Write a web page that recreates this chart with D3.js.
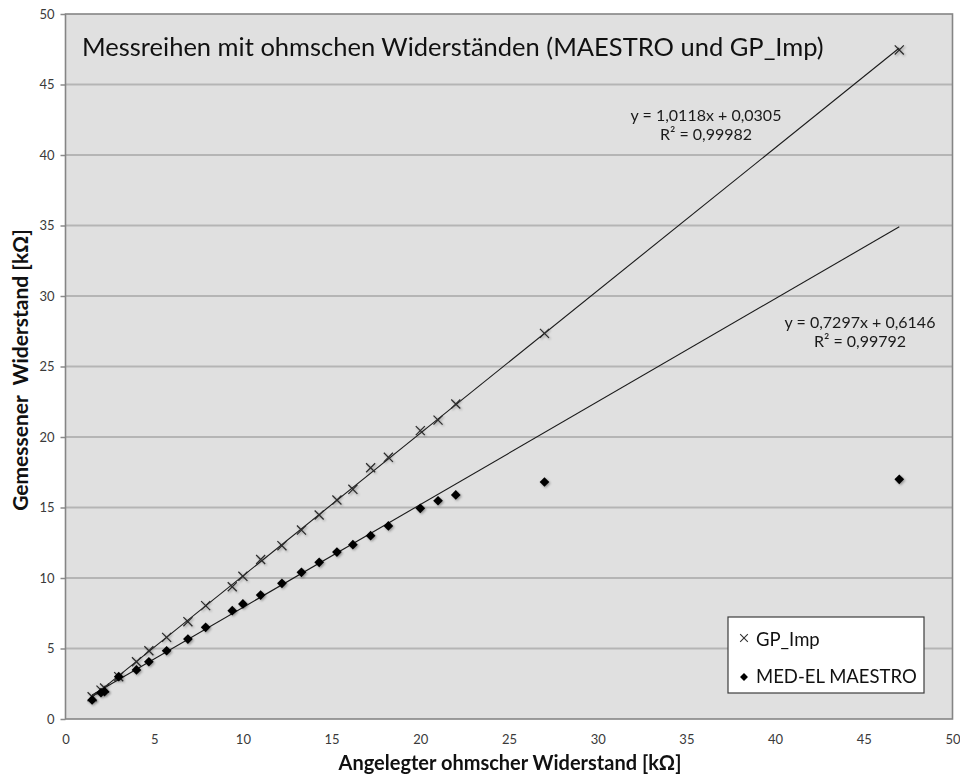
<!DOCTYPE html>
<html>
<head>
<meta charset="utf-8">
<script src="https://cdn.jsdelivr.net/npm/d3@7"></script>
<style>
  html, body { margin: 0; padding: 0; background: #ffffff; }
  svg { display: block; }
  text { font-family: Lato, "Open Sans", sans-serif; }
</style>
</head>
<body>
<svg id="chart" width="960" height="780"></svg>
<script>
// Applied resistance [kΩ] (shared by both measurement series)
const appliedResistance = [1.5, 2.0, 2.2, 3.0, 4.0, 4.7, 5.7, 6.9, 7.9, 9.4, 10.0, 11.0, 12.2,
  13.3, 14.3, 15.3, 16.2, 17.2, 18.2, 20.0, 21.0, 22.0, 27.0, 47.0];

// Measured resistance [kΩ]
const gpImpValues = [1.58, 2.05, 2.2, 3.0, 4.06, 4.84, 5.79, 6.9, 8.04, 9.38, 10.12, 11.31, 12.29,
  13.4, 14.47, 15.53, 16.29, 17.82, 18.56, 20.45, 21.2, 22.34, 27.35, 47.45];
const maestroValues = [1.35, 1.87, 1.94, 3.0, 3.48, 4.06, 4.84, 5.67, 6.5, 7.68, 8.16, 8.79, 9.62,
  10.4, 11.11, 11.84, 12.36, 13.0, 13.69, 14.94, 15.48, 15.89, 16.81, 17.0];

// Linear trendlines (slope, intercept, R²)
const seriesNames = ["GP_Imp", "MED-EL MAESTRO"];
const trendSlopes = [1.0118, 0.7297];
const trendIntercepts = [0.0305, 0.6146];
const trendR2 = ["0,99982", "0,99792"];

const xTicks = [0, 5, 10, 15, 20, 25, 30, 35, 40, 45, 50];
const yTicks = [0, 5, 10, 15, 20, 25, 30, 35, 40, 45, 50];

const titleText = "Messreihen mit ohmschen Widerständen (MAESTRO und GP_Imp)";
const xTitle = "Angelegter ohmscher Widerstand [kΩ]";
const yTitle = "Gemessener\u00A0 Widerstand [kΩ]";

const svg = d3.select("#chart");
const plotL = 65.5, plotR = 952.5, plotT = 14, plotB = 719;

const x = d3.scaleLinear().domain([0, 50]).range([plotL, plotR]);
const y = d3.scaleLinear().domain([0, 50]).range([plotB, plotT]);

// soft marker shadow
const defs = svg.append("defs");
const f = defs.append("filter").attr("id", "shadow").attr("x", "-50%").attr("y", "-50%")
  .attr("width", "200%").attr("height", "200%");
f.append("feDropShadow").attr("dx", 1.2).attr("dy", 1.2).attr("stdDeviation", 1.1)
  .attr("flood-color", "#000").attr("flood-opacity", 0.35);

// plot area
svg.append("rect").attr("x", plotL).attr("y", plotT)
  .attr("width", plotR - plotL).attr("height", plotB - plotT)
  .attr("fill", "#e0e0e0");

// horizontal gridlines
svg.append("g").selectAll("line").data(yTicks.filter(d => d > 0 && d < 50)).join("line")
  .attr("x1", plotL).attr("x2", plotR)
  .attr("y1", d => y(d)).attr("y2", d => y(d))
  .attr("stroke", "#b5b5b5").attr("stroke-width", 2);

// y axis
const yAxis = svg.append("g").attr("transform", `translate(${plotL},0)`)
  .call(d3.axisLeft(y).tickValues(yTicks).tickSize(5).tickPadding(6));
yAxis.select(".domain").remove();
yAxis.selectAll(".tick line").attr("stroke", "#8a8a8a").attr("stroke-width", 1.5);
yAxis.selectAll(".tick text").attr("font-family", "Lato, sans-serif")
  .attr("font-size", 13).attr("fill", "#3a3a3a");

// x axis
const xAxis = svg.append("g").attr("transform", `translate(0,${plotB})`)
  .call(d3.axisBottom(x).tickValues(xTicks).tickSize(0).tickPadding(16));
xAxis.select(".domain").remove();
xAxis.selectAll(".tick text").attr("font-family", "Lato, sans-serif")
  .attr("font-size", 13).attr("fill", "#3a3a3a");

// plot border
svg.append("rect").attr("x", plotL).attr("y", plotT)
  .attr("width", plotR - plotL).attr("height", plotB - plotT)
  .attr("fill", "none").attr("stroke", "#858585").attr("stroke-width", 1.6);

// trendlines, drawn over each series' x range
const xExtent = d3.extent(appliedResistance);
const line = d3.line().x(d => x(d[0])).y(d => y(d[1]));
trendSlopes.forEach((m, i) => {
  const b = trendIntercepts[i];
  svg.append("path")
    .attr("d", line(xExtent.map(v => [v, m * v + b])))
    .attr("fill", "none").attr("stroke", "#1a1a1a").attr("stroke-width", 1.1);
});

// GP_Imp markers (crosses)
const cross = d3.symbol().type(d3.symbolX).size(55);
svg.append("g").attr("filter", "url(#shadow)")
  .selectAll("path").data(appliedResistance.map((v, i) => [v, gpImpValues[i]])).join("path")
  .attr("transform", d => `translate(${x(d[0])},${y(d[1])})`)
  .attr("d", cross())
  .attr("fill", "none").attr("stroke", "#2a2a2a").attr("stroke-width", 1.2);

// MAESTRO markers (diamonds)
const diamond = d3.symbol().type(d3.symbolDiamond2).size(60);
svg.append("g").attr("filter", "url(#shadow)")
  .selectAll("path").data(appliedResistance.map((v, i) => [v, maestroValues[i]])).join("path")
  .attr("transform", d => `translate(${x(d[0])},${y(d[1])})`)
  .attr("d", diamond())
  .attr("fill", "#000");

// trendline equations
const eqPos = [[706, 116], [860, 323]];
trendSlopes.forEach((m, i) => {
  const fmt = v => v.toFixed(4).replace(".", ",");
  const g = svg.append("g").attr("font-size", 16).attr("fill", "#1a1a1a").attr("text-anchor", "middle");
  g.append("text").attr("x", eqPos[i][0]).attr("y", eqPos[i][1] + 5)
    .text(`y = ${fmt(m)}x + ${fmt(trendIntercepts[i])}`);
  g.append("text").attr("x", eqPos[i][0]).attr("y", eqPos[i][1] + 24)
    .text(`R² = ${trendR2[i]}`);
});

// chart title
svg.append("text").attr("x", 82).attr("y", 56)
  .attr("font-size", 25.5).attr("fill", "#111").text(titleText);

// axis titles
svg.append("text").attr("x", 510).attr("y", 770).attr("text-anchor", "middle")
  .attr("font-size", 20).attr("font-weight", "bold").attr("fill", "#111").text(xTitle);
svg.append("text").attr("transform", "translate(28,370) rotate(-90)").attr("text-anchor", "middle")
  .attr("font-size", 21).attr("font-weight", "bold").attr("fill", "#111").text(yTitle);

// legend
const lg = svg.append("g").attr("transform", "translate(728,617)");
lg.append("rect").attr("width", 196).attr("height", 76)
  .attr("fill", "#fff").attr("stroke", "#3c3c3c").attr("stroke-width", 1.2);
lg.append("path").attr("transform", "translate(16,21)").attr("d", d3.symbol().type(d3.symbolX).size(40)())
  .attr("fill", "none").attr("stroke", "#333").attr("stroke-width", 1.1);
lg.append("path").attr("transform", "translate(16,60)").attr("d", d3.symbol().type(d3.symbolDiamond2).size(40)())
  .attr("fill", "#000");
const legendY = [29, 66];
seriesNames.forEach((n, i) => {
  lg.append("text").attr("x", 28).attr("y", legendY[i]).attr("font-size", 18.5)
    .attr("fill", "#111").text(n);
});
</script>
</body>
</html>
